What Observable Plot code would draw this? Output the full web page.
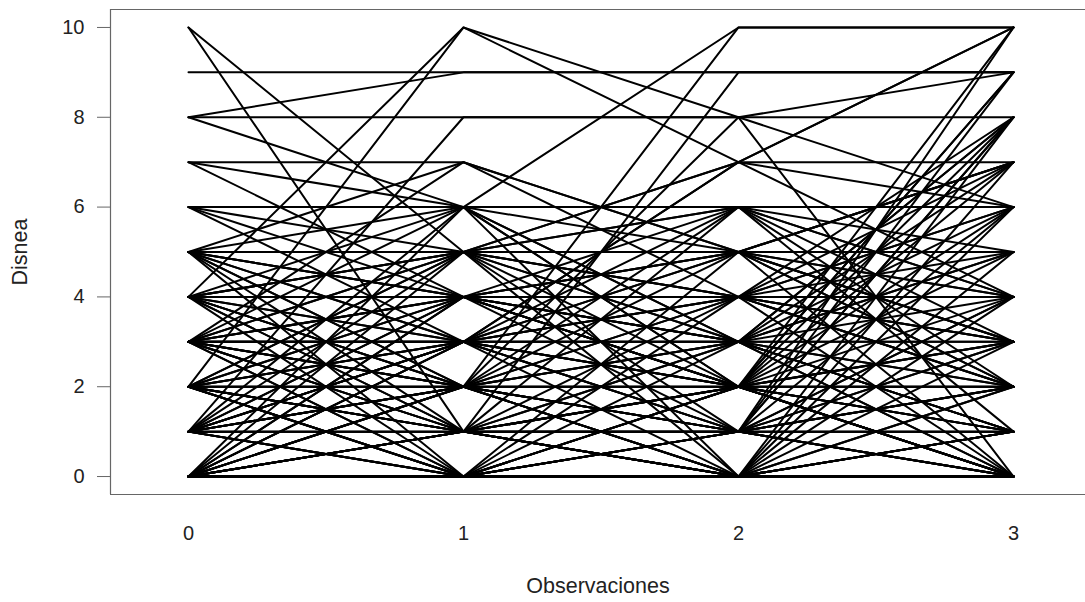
<!DOCTYPE html>
<html>
<head>
<meta charset="utf-8">
<script src="https://cdn.jsdelivr.net/npm/d3@7"></script>
<script src="https://cdn.jsdelivr.net/npm/@observablehq/plot@0.6"></script>
<style>
  html, body { margin: 0; padding: 0; background: #fff; }
  #chart svg { display: block; }
</style>
</head>
<body>
<div id="chart"></div>
<script>
// Disnea score of each patient at the four observations (one entry per patient)
const obs0 = [10,10,9,8,8,8,7,7,7,6,6,6,6,4,2,1,1,0,3,5,3,3,2,4,5,0,3,2,1,4,5,0,3,
  0,0,0,0,0,0,0,0,0,0,0,0,0,0,1,1,1,1,1,1,1,1,1,1,2,2,2,2,2,2,2,2,2,3,3,3,3,3,3,3,3,3,
  4,4,4,4,4,4,4,5,5,5,5,5,5,5,5,0,1,2,4,6,0,3,1,2,0,
  0,0,0,1,1,1,2,2,2,3,3,3,4,4,4,5,5,0,1,2,0,1,2,3,0,1,4,5,2,3];
const obs1 = [5,1,9,9,8,6,7,6,4,6,6,3,5,10,10,8,2,1,2,7,7,3,1,5,4,0,4,2,3,2,5,1,3,
  0,0,1,2,3,4,5,1,0,2,3,0,1,6,0,1,2,3,4,5,0,1,2,6,0,1,2,3,4,5,3,0,1,0,1,2,3,4,5,6,0,1,
  0,1,2,3,4,5,6,0,1,2,3,4,5,6,3,4,3,5,2,4,2,2,4,0,3,
  0,1,0,0,2,1,1,2,3,2,3,4,3,4,5,4,5,0,0,1,2,3,4,5,1,2,1,2,0,1];
const obs2 = [4,2,9,9,8,5,5,6,3,10,6,2,7,8,7,8,10,9,8,5,4,2,1,7,2,1,3,0,4,1,3,0,5,
  0,0,0,1,1,2,3,2,1,0,5,3,4,0,0,1,3,2,1,2,4,0,5,3,1,2,2,0,3,4,6,2,3,0,1,4,3,2,1,2,5,6,
  1,0,2,4,5,0,3,2,3,0,1,4,6,2,7,6,7,5,6,2,4,3,5,0,2,
  0,1,2,1,0,2,0,1,3,2,1,4,3,2,5,3,4,1,0,1,3,4,5,6,0,1,2,1,2,0];
const obs3 = [3,3,9,9,9,7,4,6,8,10,6,5,10,0,7,8,10,9,6,3,2,10,10,10,9,9,8,8,8,8,7,7,7,
  0,0,0,0,2,1,0,3,1,4,2,5,6,0,1,1,4,0,2,1,3,2,0,1,0,2,1,3,0,2,4,6,3,1,0,5,3,1,4,0,2,1,
  2,0,3,6,4,1,5,0,2,1,3,0,5,4,6,3,4,7,2,0,7,6,5,0,8,
  1,0,2,3,1,0,2,4,1,0,2,3,1,2,3,2,4,0,0,1,1,2,3,4,5,6,7,8,9,6];

// Observation indices and axis ticks
const observaciones = [0, 1, 2, 3];
const yTicks = [0, 2, 4, 6, 8, 10];

// Plot region limits (data units)
const xLim = [-0.2836, 3.2618];
const yLim = [-0.4, 10.4];

// Long table: one row per patient and observation
const rows = [];
const series = [obs0, obs1, obs2, obs3];
obs0.forEach((_, id) => {
  observaciones.forEach((o, k) => rows.push({id, obs: o, disnea: series[k][id]}));
});

const chart = Plot.plot({
  width: 1085,
  height: 602,
  marginLeft: 110,
  marginRight: 0,
  marginTop: 9,
  marginBottom: 108,
  style: {fontFamily: "'Liberation Sans', Arial, sans-serif", fontSize: "20px", color: "#222", background: "#fff"},
  x: {domain: xLim},
  y: {domain: yLim},
  marks: [
    Plot.line(rows, {x: "obs", y: "disnea", z: "id", stroke: "#000", strokeWidth: 2}),
    // box on three sides
    Plot.ruleY(yLim, {x1: xLim[0], x2: xLim[1], stroke: "#666", strokeWidth: 1.2}),
    Plot.ruleX([xLim[0]], {y1: yLim[0], y2: yLim[1], stroke: "#666", strokeWidth: 1.2}),
    Plot.axisY({ticks: yTicks, tickSize: 13, tickPadding: 13, stroke: "#666", fontSize: 20,
      label: null}),
    Plot.axisY({ticks: [], tickSize: 0, fontSize: 21.5,
      label: "Disnea", labelAnchor: "center", labelOffset: 99, labelArrow: "none"}),
    Plot.axisX({ticks: observaciones, tickSize: 0, tickPadding: 31, fontSize: 20,
      tickFormat: d => String(d), label: null}),
    Plot.axisX({ticks: [], tickSize: 0, fontSize: 21.5,
      label: "Observaciones", labelAnchor: "center", labelOffset: 98, labelArrow: "none"})
  ]
});
document.getElementById("chart").appendChild(chart);
</script>
</body>
</html>
